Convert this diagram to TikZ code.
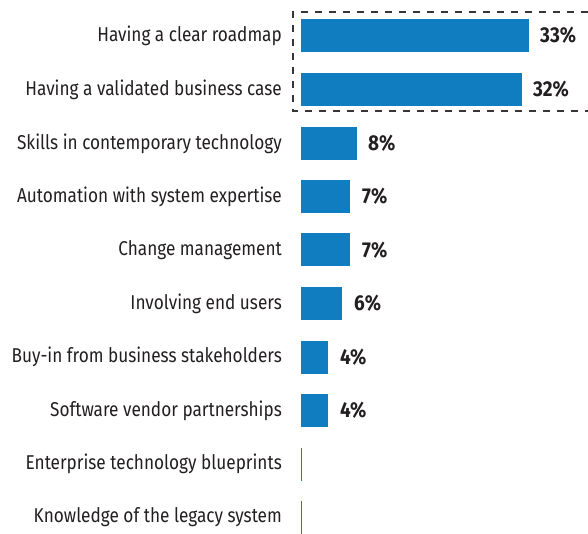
\documentclass[tikz,border=0pt]{standalone}
\usepackage{fontspec}
\setmainfont{Fira Sans}[FakeStretch=0.86]
\newfontfamily\pctfont{Fira Sans}[FakeStretch=0.88]
\usepackage{tikz}
\usetikzlibrary{positioning}
\definecolor{barblue}{RGB}{16,125,193}
\definecolor{txtgrey}{RGB}{35,31,32}

\tikzset{
    label/.style={anchor=east, font=\fontsize{20}{24}\selectfont, text=txtgrey, inner sep=0pt},
    bar/.style={anchor=west, fill=barblue, minimum height=33pt, inner sep=0pt, outer sep=0pt},
    nobar/.style={anchor=west, fill=barblue, minimum height=33pt, minimum width=1pt, inner sep=0pt, outer sep=0pt},
    pct/.style={font=\pctfont\fontsize{21.5}{24}\selectfont\bfseries, text=txtgrey, inner sep=0pt},
    dashbox/.style={dashed, dash pattern=on 7pt off 7pt, line width=1.5pt, draw=txtgrey!90}
}

\begin{document}
\begin{tikzpicture}[x=1pt, y=-1pt]
                        \useasboundingbox (0,0) rectangle (588,534);

                        \node[label] (l1) at (282,35.5) {Having a clear roadmap};
                        \node[bar, minimum width=228pt] (b1) at (301,35.5) {};
                        \node[pct, right=11pt of b1] (p1) {33\%};

                        \node[label] (l2) at (282,89.5) {Having a validated business case};
                        \node[bar, minimum width=221pt] (b2) at (301,89.5) {};
                        \node[pct, right=11pt of b2] (p2) {32\%};

                        \node[label] (l3) at (282,143.5) {Skills in contemporary technology};
                        \node[bar, minimum width=56pt] (b3) at (301,143.5) {};
                        \node[pct, right=11pt of b3] (p3) {8\%};

                        \node[label] (l4) at (282,196.5) {Automation with system expertise};
                        \node[bar, minimum width=49pt] (b4) at (301,196.5) {};
                        \node[pct, right=12pt of b4] (p4) {7\%};

                        \node[label] (l5) at (282,250) {Change management};
                        \node[bar, minimum width=49pt] (b5) at (301,250) {};
                        \node[pct, right=12pt of b5] (p5) {7\%};

                        \node[label] (l6) at (282,303.5) {Involving end users};
                        \node[bar, minimum width=41pt] (b6) at (301,303.5) {};
                        \node[pct, right=12pt of b6] (p6) {6\%};

                        \node[label] (l7) at (282,357) {Buy-in from business stakeholders};
                        \node[bar, minimum width=27pt] (b7) at (301,357) {};
                        \node[pct, right=12pt of b7] (p7) {4\%};

                        \node[label] (l8) at (282,410.5) {Software vendor partnerships};
                        \node[bar, minimum width=27pt] (b8) at (301,410.5) {};
                        \node[pct, right=12pt of b8] (p8) {4\%};

                        \node[label] (l9) at (282,464) {Enterprise technology blueprints};
                        \node[nobar] (b9) at (301,464) {};

                        \node[label] (l10) at (282,517.5) {Knowledge of the legacy system};
                        \node[nobar] (b10) at (301,517.5) {};

                        \draw[dashbox] (588,12) -- (293,12) -- (293,111) -- (588,111);
                    \end{tikzpicture}
\end{document}
